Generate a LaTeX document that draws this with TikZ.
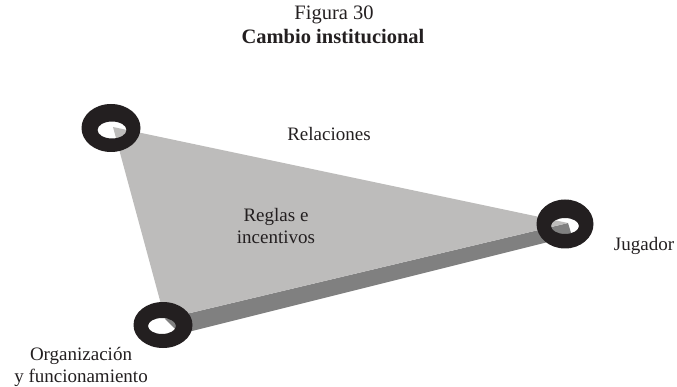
\documentclass[tikz,border=0pt]{standalone}
\usepackage{fontspec}
\setmainfont{Liberation Serif}
\definecolor{topgrey}{RGB}{189,188,187}
\definecolor{sidegrey}{RGB}{128,128,128}
\definecolor{ringblack}{RGB}{35,31,32}
\definecolor{txt}{RGB}{35,31,32}
\tikzset{
  lbl/.style={text=txt, font=\fontsize{19}{22}\selectfont, align=center, inner sep=0pt},
  ttl/.style={text=txt, font=\fontsize{20.5}{22}\selectfont, align=center, inner sep=0pt},
  ringfill/.style={fill=ringblack, even odd rule}
}
\begin{document}
\begin{tikzpicture}[x=1pt,y=-1pt]
\useasboundingbox (0,0) rectangle (677,387);
% vertices
\coordinate (A) at (113,127);
\coordinate (B) at (568,223);
\coordinate (C) at (165,319);
\coordinate (B2) at (572,236);
\coordinate (C2) at (180,334);
% side face
\fill[sidegrey] (C) -- (B) -- (B2) -- (C2) -- cycle;
% top face
\fill[topgrey] (A) -- (B) -- (C) -- cycle;
% rings
\fill[ringfill] (111,128) ellipse [x radius=29.5, y radius=24] (112,130) ellipse [x radius=14.5, y radius=8.5];
\fill[ringfill] (565,224) ellipse [x radius=28.5, y radius=24.5] (565,226) ellipse [x radius=14, y radius=8];
\fill[ringfill] (163,325) ellipse [x radius=29.5, y radius=23] (162,326) ellipse [x radius=14, y radius=8];
% texts
\node[ttl] (t1) at (334,15) {Figura 30};
\node[ttl] (t2) at (333,37) {\bfseries Cambio institucional};
\node[lbl] (rel) at (329,134) {Relaciones};
\node[lbl] (reg) at (276,226) {Reglas e\\incentivos};
\node[lbl] (jug) at (644,246) {Jugador};
\node[lbl] (org) at (81,367) {Organización\\y funcionamiento};
\end{tikzpicture}
\end{document}
